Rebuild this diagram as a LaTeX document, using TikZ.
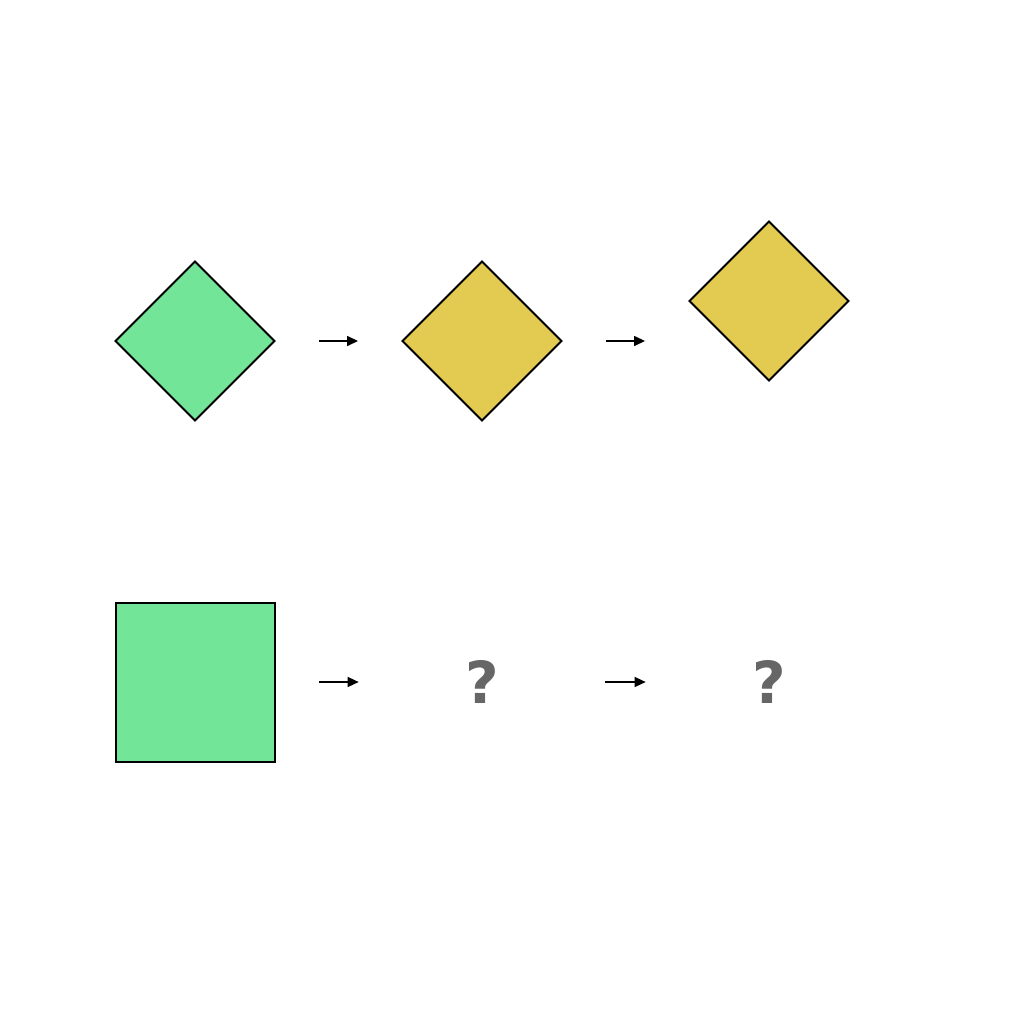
\documentclass[tikz,border=0pt]{standalone}
\usepackage{fontspec}
\setmainfont{DejaVu Sans}
\usetikzlibrary{shapes.geometric, arrows.meta, positioning}
\definecolor{greencolor}{HTML}{73E598}
\definecolor{yellowcolor}{HTML}{E3CA50}
\definecolor{askcolor}{HTML}{666666}

\begin{document}
\begin{tikzpicture}[
    x=0.02cm, y=-0.02cm,
    rhomb/.style={diamond, draw, line width=1.1pt, minimum size=3.2cm, inner sep=0pt, aspect=1},
    squarebox/.style={rectangle, draw, line width=1.1pt, fill=greencolor, minimum size=3.18cm, inner sep=0pt},
    ask/.style={minimum size=3.2cm, inner sep=0pt, text=askcolor, font=\fontsize{33}{33}\selectfont\bfseries},
    next/.style={-{Triangle[length=0.22cm, width=0.2cm]}, line width=0.8pt, shorten <=0.86cm, shorten >=0.86cm}
]
    \useasboundingbox[fill=white] (0, 0) rectangle (1024, 1024);

    % Top row
    \node[rhomb, fill=greencolor] (a1) at (195, 341) {};
    \node[rhomb, fill=yellowcolor] (a2) at (482, 341) {};
    \node[rhomb, fill=yellowcolor] (a3) at (769, 301) {};

    % Bottom row
    \node[squarebox] (b1) at (195.5, 682.5) {};
    \node[ask] (b2) at (482, 682) {?};
    \node[ask] (b3) at (769, 682) {?};

    % Steps
    \draw[next] (a1.east) -- (a2.west);
    \draw[next] (a2.east) -- (a2.east -| a3.west);
    \draw[next] (b1.east |- b2) -- (b2.west);
    \draw[next] (b2.east) -- (b3.west);
\end{tikzpicture}
\end{document}
